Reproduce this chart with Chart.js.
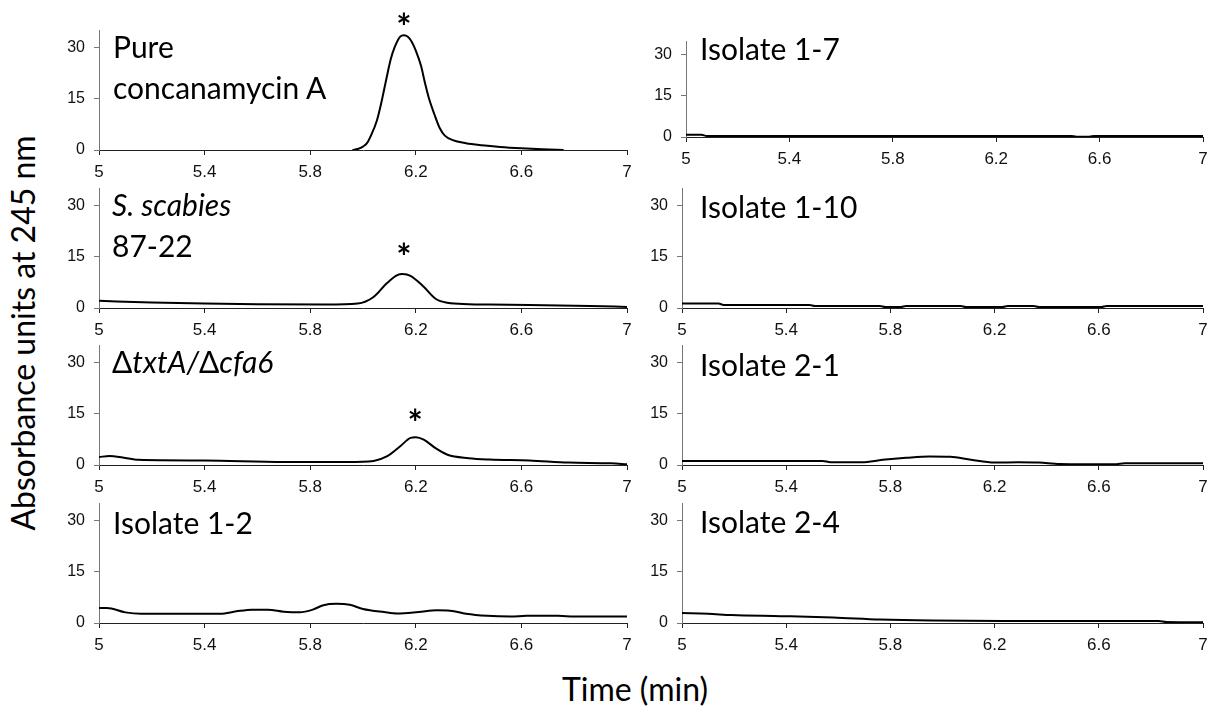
<!DOCTYPE html>
<html><head><meta charset="utf-8">
<script src="https://cdn.jsdelivr.net/npm/chart.js@4.4.0/dist/chart.umd.min.js"></script>
<style>
body{margin:0;background:#fff;width:1225px;height:709px;position:relative;overflow:hidden;font-family:Lato,sans-serif;}
canvas{position:absolute;}
.lbl{position:absolute;font-family:Lato,sans-serif;font-size:30px;line-height:41px;color:#000;white-space:nowrap;}
.title{position:absolute;font-family:Lato,sans-serif;font-size:32px;color:#000;white-space:nowrap;transform:translate(-50%,-50%);}
</style></head><body>
<div class="title" style="left:22px;top:333px;transform:translate(-50%,-50%) rotate(-90deg);">Absorbance units at 245 nm</div>
<div class="title" style="left:635px;top:688px;">Time (min)</div>
<script>
const xTicks = [5, 5.4, 5.8, 6.2, 6.6, 7];
const yTicks = [0, 15, 30];

const pureTime = [5.96, 5.98, 6.0, 6.015, 6.03, 6.053, 6.07, 6.09, 6.105, 6.12, 6.14, 6.155, 6.17, 6.185, 6.2, 6.22, 6.235, 6.25, 6.27, 6.29, 6.31, 6.34, 6.39, 6.45, 6.52, 6.6, 6.68, 6.76];
const pureAbs  = [0, 0.3, 1.0, 2.0, 4.2, 8.7, 14, 21.3, 26.5, 30, 33, 33.5, 33, 31.5, 29, 24.5, 19.5, 15, 10.5, 6.5, 4.2, 2.9, 2.0, 1.4, 0.9, 0.5, 0.2, 0];

const scabiesTime = [5.0, 5.2, 5.4, 5.6, 5.86, 5.98, 6.04, 6.09, 6.13, 6.15, 6.18, 6.23, 6.275, 6.32, 6.4, 6.48, 6.63, 6.86, 7.0];
const scabiesAbs  = [2.1, 1.6, 1.3, 1.1, 1.0, 1.3, 3.2, 7.2, 9.6, 9.9, 9.4, 6.2, 2.7, 1.5, 1.1, 1.0, 0.9, 0.6, 0.3];

const mutantTime = [5.0, 5.04, 5.09, 5.15, 5.4, 5.7, 5.94, 6.04, 6.09, 6.14, 6.18, 6.2, 6.23, 6.275, 6.32, 6.4, 6.48, 6.63, 6.78, 6.94, 7.0];
const mutantAbs  = [2.3, 2.65, 2.2, 1.5, 1.3, 0.9, 0.9, 1.2, 2.5, 5.4, 7.9, 8.1, 7.4, 4.9, 3.0, 2.0, 1.6, 1.3, 0.7, 0.5, 0.2];

const iso12Time = [5.0, 5.03, 5.1, 5.16, 5.46, 5.52, 5.58, 5.64, 5.7, 5.76, 5.81, 5.85, 5.9, 5.95, 6.0, 6.08, 6.13, 6.21, 6.28, 6.33, 6.39, 6.47, 6.56, 6.62, 6.74, 6.8, 7.0];
const iso12Abs  = [4.4, 4.4, 3.1, 2.7, 2.7, 3.4, 3.9, 3.9, 3.3, 3.1, 3.9, 5.2, 5.6, 5.3, 4.1, 3.2, 2.8, 3.2, 3.7, 3.6, 2.7, 2.1, 1.9, 2.1, 2.1, 1.9, 1.9];

const iso17Time = [5.0, 5.06, 5.08, 6.49, 6.51, 6.56, 6.58, 7.0];
const iso17Abs  = [0.8, 0.8, 0.4, 0.4, 0.1, 0.1, 0.4, 0.4];

const iso110Time = [5.0, 5.14, 5.16, 5.49, 5.51, 5.76, 5.78, 5.84, 5.86, 6.07, 6.09, 6.23, 6.25, 6.35, 6.37, 6.61, 6.63, 7.0];
const iso110Abs  = [1.3, 1.3, 0.9, 0.9, 0.6, 0.6, 0.3, 0.3, 0.6, 0.6, 0.3, 0.3, 0.6, 0.6, 0.3, 0.3, 0.6, 0.6];

const iso21Time = [5.0, 5.54, 5.57, 5.69, 5.77, 5.86, 5.95, 6.03, 6.11, 6.2, 6.29, 6.37, 6.45, 6.66, 6.7, 7.0];
const iso21Abs  = [1.2, 1.2, 0.8, 0.8, 1.5, 2.1, 2.5, 2.4, 1.5, 0.7, 0.8, 0.7, 0.3, 0.2, 0.5, 0.5];

const iso24Time = [5.0, 5.1, 5.19, 5.38, 5.58, 5.76, 5.96, 6.23, 6.53, 6.83, 6.86, 7.0];
const iso24Abs  = [2.9, 2.7, 2.3, 2.0, 1.6, 1.0, 0.7, 0.6, 0.6, 0.6, 0.3, 0.2];

// peak markers: [time, level of the asterisk]
const pureStar = [6.155, 38.5];
const scabiesStar = [6.155, 17.5];
const mutantStar = [6.198, 14.8];

const panels = [
  {label:'Pure<br>concanamycin A', time:pureTime, abs:pureAbs, star:pureStar, axisX:99, zeroY:150, w:528, h:120, lx:113, ly:26},
  {label:'<i>S. scabies</i><br>87-22', time:scabiesTime, abs:scabiesAbs, star:scabiesStar, axisX:99, zeroY:308, w:528, h:120, lx:112, ly:184},
  {label:'Δ<i>txtA/</i>Δ<i>cfa6</i>', time:mutantTime, abs:mutantAbs, star:mutantStar, axisX:99, zeroY:465, w:528, h:120, lx:112, ly:341},
  {label:'Isolate 1-2', time:iso12Time, abs:iso12Abs, star:null, axisX:99, zeroY:623, w:528, h:120, lx:113, ly:502},
  {label:'Isolate 1-7', time:iso17Time, abs:iso17Abs, star:null, axisX:686, zeroY:137, w:517, h:96, lx:700, ly:28},
  {label:'Isolate 1-10', time:iso110Time, abs:iso110Abs, star:null, axisX:682, zeroY:308, w:521, h:120, lx:700, ly:186},
  {label:'Isolate 2-1', time:iso21Time, abs:iso21Abs, star:null, axisX:682, zeroY:465, w:521, h:120, lx:700, ly:344},
  {label:'Isolate 2-4', time:iso24Time, abs:iso24Abs, star:null, axisX:682, zeroY:623, w:521, h:120, lx:700, ly:501}
];

const padTop = 32, yW = 45, xH = 36, padR = 15;

panels.forEach(p => {
  const cv = document.createElement('canvas');
  cv.width = yW + p.w + padR;
  cv.height = padTop + p.h + xH;
  cv.style.left = (p.axisX - yW) + 'px';
  cv.style.top = (p.zeroY - p.h - padTop) + 'px';
  cv.style.width = cv.width + 'px';
  cv.style.height = cv.height + 'px';
  document.body.appendChild(cv);

  const lbl = document.createElement('div');
  lbl.className = 'lbl';
  lbl.style.left = p.lx + 'px';
  lbl.style.top = p.ly + 'px';
  lbl.innerHTML = p.label;
  document.body.appendChild(lbl);

  const starPlugin = {
    id: 'star',
    afterDatasetsDraw(chart) {
      if (!p.star) return;
      const ctx = chart.ctx;
      const x = chart.scales.x.getPixelForValue(p.star[0]);
      const y = chart.scales.y.getPixelForValue(p.star[1]);
      ctx.save();
      ctx.font = 'bold 36px Lato, sans-serif';
      ctx.fillStyle = '#000';
      ctx.textAlign = 'center';
      ctx.textBaseline = 'alphabetic';
      const m = ctx.measureText('*');
      const base = y - (m.actualBoundingBoxDescent - m.actualBoundingBoxAscent) / 2;
      ctx.fillText('*', x, base);
      ctx.restore();
    }
  };

  new Chart(cv, {
    type: 'line',
    data: {datasets: [{
      data: p.time.map((t, i) => ({x: t, y: p.abs[i]})),
      borderColor: '#000', borderWidth: 2, pointRadius: 0,
      cubicInterpolationMode: 'monotone', fill: false
    }]},
    options: {
      responsive: false, animation: false, devicePixelRatio: 1,
      layout: {padding: {top: padTop, right: padR, left: 0, bottom: 0}},
      plugins: {legend: {display: false}, tooltip: {enabled: false}},
      scales: {
        x: {
          type: 'linear', min: 5, max: 7,
          afterBuildTicks: s => { s.ticks = xTicks.map(v => ({value: v})); },
          afterFit: s => { s.height = xH; },
          ticks: {color: '#111', font: {family: 'Liberation Sans', size: 17}, padding: 7,
                  maxRotation: 0, autoSkip: false, callback: v => String(v)},
          grid: {display: true, drawOnChartArea: false, drawTicks: true, tickLength: 5, color: '#222'},
          border: {display: true, color: '#222', width: 1}
        },
        y: {
          type: 'linear', min: 0, max: 35,
          afterBuildTicks: s => { s.ticks = yTicks.map(v => ({value: v})); },
          afterFit: s => { s.width = yW; },
          ticks: {color: '#111', font: {family: 'Liberation Sans', size: 16}, padding: 9,
                  autoSkip: false, callback: v => String(v)},
          grid: {display: true, drawOnChartArea: false, drawTicks: true, tickLength: 5, color: '#777'},
          border: {display: true, color: '#777', width: 1}
        }
      }
    },
    plugins: [starPlugin]
  });
});
</script>
</body></html>
